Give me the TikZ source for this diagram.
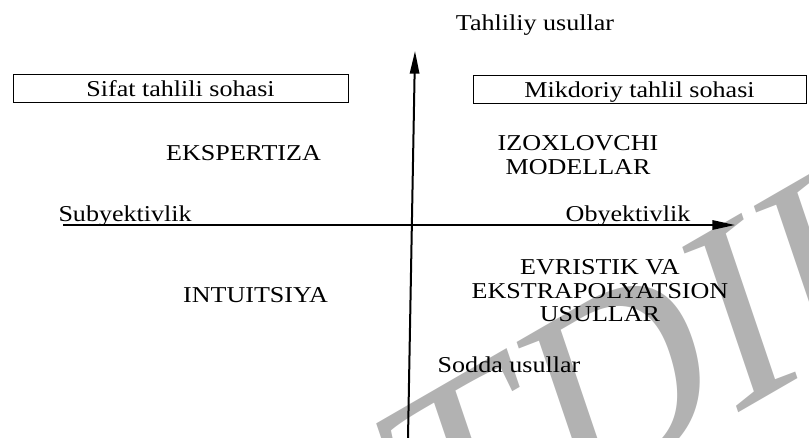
\documentclass[tikz,border=0pt]{standalone}
\usepackage{fontspec}
\setmainfont{Liberation Serif}[FakeStretch=1.15]
\newfontfamily\wmfont{Liberation Serif}
\usetikzlibrary{arrows.meta}
\tikzset{every picture/.style={line width=0.75pt}}
\tikzset{
  txt/.style={font=\fontsize{17}{17.6}\selectfont, inner sep=0pt},
  areabox/.style={draw, txt, minimum height=21pt, text height=11.6pt, text depth=0pt},
  axisline/.style={line width=1.5pt, -{Triangle[length=17pt,width=7pt]}},
  wmark/.style={text=black!30, font=\wmfont\fontsize{196}{196}\selectfont, inner sep=0pt, anchor=base west, rotate=30, xslant=0.2}
}

\begin{document}
\begin{tikzpicture}[x=0.75pt,y=0.75pt,yscale=-1,xscale=1]
\useasboundingbox (0,0) rectangle (809,438);

%Watermark
\begin{scope}
\clip (0,0) rectangle (809,438);
\draw (428,592) node (wm) [wmark] {TDIU};
\end{scope}

%Shape: Axes
\coordinate (xl) at (63,225);
\coordinate (xr) at (735,225);
\coordinate (yb) at (408,438);
\coordinate (yt) at (415,51);
\draw [axisline] (xl) -- (xr);
\draw [axisline] (yb) -- (yt);

%Shape: Rectangles
\draw (180.5,89) node (sifat) [areabox, minimum width=251.25pt] {Sifat tahlili sohasi};
\draw (639.5,90) node (mikd) [areabox, minimum width=249.75pt] {Mikdoriy tahlil sohasi};

% Text Node
\draw (535,31) node (tahl) [txt, anchor=base] {Tahliliy usullar};
% Text Node
\draw (243.5,160.7) node (ekspert) [txt, anchor=base] {EKSPERTIZA};
% Text Node
\draw (578,155) node (izox) [txt, align=center] {IZOXLOVCHI\\MODELLAR};
% Text Node
\draw (58,221) node (subyekt) [txt, anchor=base west] {Subyektivlik};
% Text Node
\draw (628,222) node (obyekt) [txt, anchor=base] {Obyektivlik};
% Text Node
\draw (600,291) node (evrist) [txt, align=center] {EVRISTIK VA\\EKSTRAPOLYATSION\\USULLAR};
% Text Node
\draw (255.5,302) node (intuit) [txt, anchor=base] {INTUITSIYA};
% Text Node
\draw (509,372) node (sodda) [txt, anchor=base] {Sodda usullar};

\end{tikzpicture}
\end{document}
